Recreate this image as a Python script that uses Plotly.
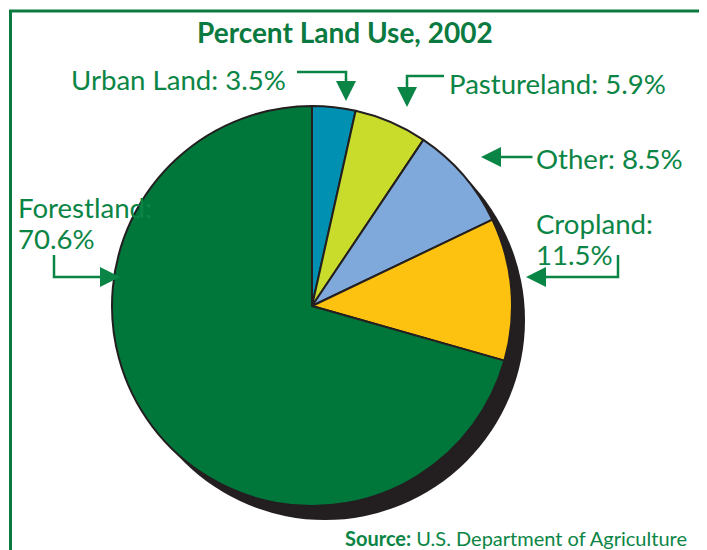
import plotly.graph_objects as go

# ---- data ----
categories = ["Urban Land", "Pastureland", "Other", "Cropland", "Forestland"]
percents = [3.5, 5.9, 8.5, 11.5, 70.6]
slice_colors = ["#0090b2", "#c9dc2b", "#7ea9da", "#fdc20f", "#00773a"]
title_text = "Percent Land Use, 2002"
source_bold = "Source:"
source_rest = "U.S. Department of Agriculture"

OFF = 8  # page body margin
W, H = 707 - OFF, 550 - OFF
GREEN = "#0b8545"
FRAME = "#0a7a40"
DARK = "#231f20"


def px(x):
    return (x - OFF) / W


def py(y):
    return 1 - (y - OFF) / H


cx, cy, r = 312, 306, 200

fig = go.Figure()
fig.add_trace(go.Pie(
    labels=categories,
    values=percents,
    sort=False,
    direction="clockwise",
    rotation=0,
    marker=dict(colors=slice_colors, line=dict(color=DARK, width=2)),
    textinfo="none",
    hoverinfo="label+percent",
    showlegend=False,
    domain=dict(x=[px(cx - r), px(cx + r)], y=[py(cy + r), py(cy - r)]),
))

shapes = []
# shadow (3D edge)
dx, dy = 13, 14
shapes.append(dict(type="circle", xref="paper", yref="paper", layer="below",
                   x0=px(cx - r + dx), x1=px(cx + r + dx),
                   y0=py(cy + r + dy), y1=py(cy - r + dy),
                   fillcolor=DARK, line=dict(width=0)))
# frame
shapes.append(dict(type="rect", xref="paper", yref="paper", layer="above",
                   x0=px(10.5), x1=px(702.5), y0=-0.1, y1=py(11),
                   line=dict(color=FRAME, width=3), fillcolor="rgba(0,0,0,0)"))


def poly(points):
    d = "M " + " L ".join(f"{px(x)},{py(y)}" for x, y in points)
    shapes.append(dict(type="path", xref="paper", yref="paper", path=d,
                       line=dict(color=GREEN, width=2.5)))


annotations = []


def arrow(tip, tail):
    annotations.append(dict(x=px(tip[0]), y=py(tip[1]), xref="paper", yref="paper",
                            ax=tail[0] - tip[0], ay=tail[1] - tip[1],
                            axref="pixel", ayref="pixel",
                            text="", showarrow=True, arrowhead=2, arrowsize=1.6,
                            arrowwidth=2.5, arrowcolor=GREEN))


# Urban
poly([(297, 72), (346, 72), (346, 80)])
arrow((346, 101), (346, 78))
# Pastureland
poly([(444, 76), (407, 76), (407, 84)])
arrow((407, 107), (407, 82))
# Other
arrow((481, 157), (534, 157))
# Cropland
poly([(618, 255), (618, 277), (545, 277)])
arrow((526, 277), (548, 277))
# Forestland
poly([(54, 255), (54, 277), (100, 277)])
arrow((120, 277), (98, 277))

LBL = dict(family="Lato", size=27.6, color=GREEN)


def label(text, x, y):
    annotations.append(dict(x=px(x), y=py(y), xref="paper", yref="paper",
                            text=text, showarrow=False, xanchor="left",
                            yanchor="middle", font=LBL))


label(f"{categories[0]}: {percents[0]}%", 69, 80)
label(f"{categories[1]}: {percents[1]}%", 447, 83)
label(f"{categories[2]}: {percents[2]}%", 534, 158)
label(f"{categories[3]}:", 534, 223)
label(f"{percents[3]}%", 534, 255)
label(f"{categories[4]}:", 16, 207)
label(f"{percents[4]}%", 16, 238)

annotations.append(dict(x=px(345), y=py(32), xref="paper", yref="paper",
                        text=f"<b>{title_text}</b>", showarrow=False,
                        xanchor="center", yanchor="middle",
                        font=dict(family="Lato", size=28, color=FRAME)))
annotations.append(dict(x=px(689), y=py(538), xref="paper", yref="paper",
                        text=f"<b>{source_bold}</b> {source_rest}", showarrow=False,
                        xanchor="right", yanchor="middle",
                        font=dict(family="Lato", size=20, color=GREEN)))

fig.update_layout(width=W, height=H, margin=dict(l=0, r=0, t=0, b=0),
                  paper_bgcolor="white", plot_bgcolor="white",
                  shapes=shapes, annotations=annotations, showlegend=False)

fig.write_html("out.html")
